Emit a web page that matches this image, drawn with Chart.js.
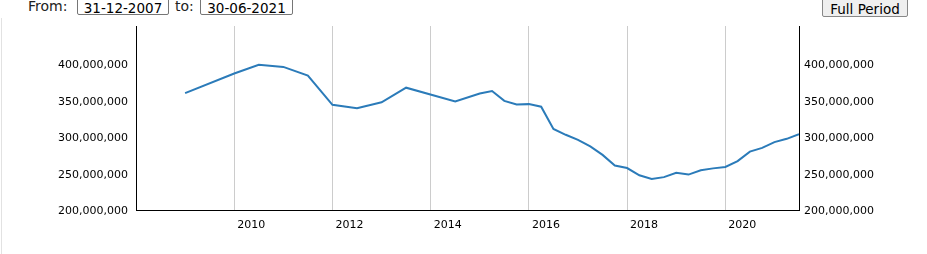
<!DOCTYPE html>
<html>
<head>
<meta charset="utf-8">
<script src="https://cdn.jsdelivr.net/npm/chart.js@4"></script>
<style>
  body { margin: 0; width: 927px; height: 254px; overflow: hidden; background: #fff; font-family: "DejaVu Sans", Verdana, sans-serif; }
  #frame { position: absolute; left: 1px; top: 18px; width: 1px; height: 240px; background: #e2e2e2; }
  .lbl { position: absolute; font-size: 14px; color: #222; top: -2px; }
  .box { position: absolute; top: -5px; height: 20px; border: 1px solid #767676; border-radius: 2px; font-size: 13.5px; color: #000; text-align: center; line-height: 24px; box-sizing: border-box; }
  .btn { position: absolute; top: -5px; left: 822px; width: 86px; height: 22px; border: 1px solid #888; border-radius: 2px; background: #efefef; font-size: 13.5px; color: #000; text-align: center; line-height: 26px; box-sizing: border-box; }
  canvas { position: absolute; left: 0; top: 0; }
</style>
</head>
<body>
<div id="frame"></div>
<span class="lbl" style="left:28px">From:</span>
<div class="box" style="left:77px;width:92px">31-12-2007</div>
<span class="lbl" style="left:175px">to:</span>
<div class="box" style="left:200px;width:93px">30-06-2021</div>
<div class="btn">Full Period</div>
<canvas id="chart" width="927" height="254"></canvas>
<script>
// dates as decimal years, values in millions
const dates = [2009.0, 2010.0, 2010.5, 2011.0, 2011.5, 2012.0, 2012.5, 2013.0, 2013.5, 2014.5,
  2015.0, 2015.25, 2015.5, 2015.75, 2016.0, 2016.25, 2016.5, 2016.75, 2017.0, 2017.25,
  2017.5, 2017.75, 2018.0, 2018.25, 2018.5, 2018.75, 2019.0, 2019.25, 2019.5, 2019.75,
  2020.0, 2020.25, 2020.5, 2020.75, 2021.0, 2021.25, 2021.5]
const valuesMillions = [360, 387, 399, 396, 384, 344, 339.5, 347.5, 367.5, 348.5,
  359.5, 363, 349.5, 344.5, 345, 341.5, 311, 303, 296, 287,
  275.5, 261, 257.5, 247.5, 242.5, 245, 251, 248.5, 254.5, 257,
  259, 267, 280, 285, 293, 297.5, 304]
const xTickYears = [2010, 2012, 2014, 2016, 2018, 2020]
const yTickValues = [200000000, 250000000, 300000000, 350000000, 400000000]

const font = { family: '"DejaVu Sans", Verdana, sans-serif', size: 11 }
const fmt = v => Number(v).toLocaleString('en-US')

function yAxis(position, padding, width) {
  return {
    type: 'linear',
    position: position,
    min: 200000000,
    max: 452000000,
    afterBuildTicks: axis => { axis.ticks = yTickValues.map(v => ({ value: v })) },
    afterFit: axis => { axis.width = width },
    grid: { display: false, drawTicks: false },
    border: { display: true, color: '#000', width: 1 },
    ticks: { color: '#000', font: font, padding: padding, labelOffset: 1.5, callback: v => fmt(v) }
  }
}

new Chart(document.getElementById('chart').getContext('2d'), {
  type: 'line',
  data: {
    datasets: [{
      data: dates.map((d, i) => ({ x: d, y: valuesMillions[i] * 1000000 })),
      borderColor: '#2b7bb9',
      borderWidth: 2,
      pointRadius: 0,
      tension: 0,
      yAxisID: 'y'
    }]
  },
  options: {
    responsive: false,
    animation: false,
    layout: { padding: { top: 26, left: 0, right: 0, bottom: 0 } },
    plugins: { legend: { display: false }, tooltip: { enabled: false } },
    scales: {
      x: {
        type: 'linear',
        min: 2008.0,
        max: 2021.5,
        afterBuildTicks: axis => { axis.ticks = xTickYears.map(v => ({ value: v })) },
        afterFit: axis => { axis.height = 44 },
        grid: { display: true, drawTicks: false, color: '#cccccc', lineWidth: 1 },
        border: { display: true, color: '#000', width: 1 },
        ticks: { color: '#000', font: font, padding: 9, align: 'start', labelOffset: 3, maxRotation: 0, callback: v => String(v) }
      },
      y: yAxis('left', 8, 136),
      y2: yAxis('right', 5, 128)
    }
  }
})
</script>
</body>
</html>
